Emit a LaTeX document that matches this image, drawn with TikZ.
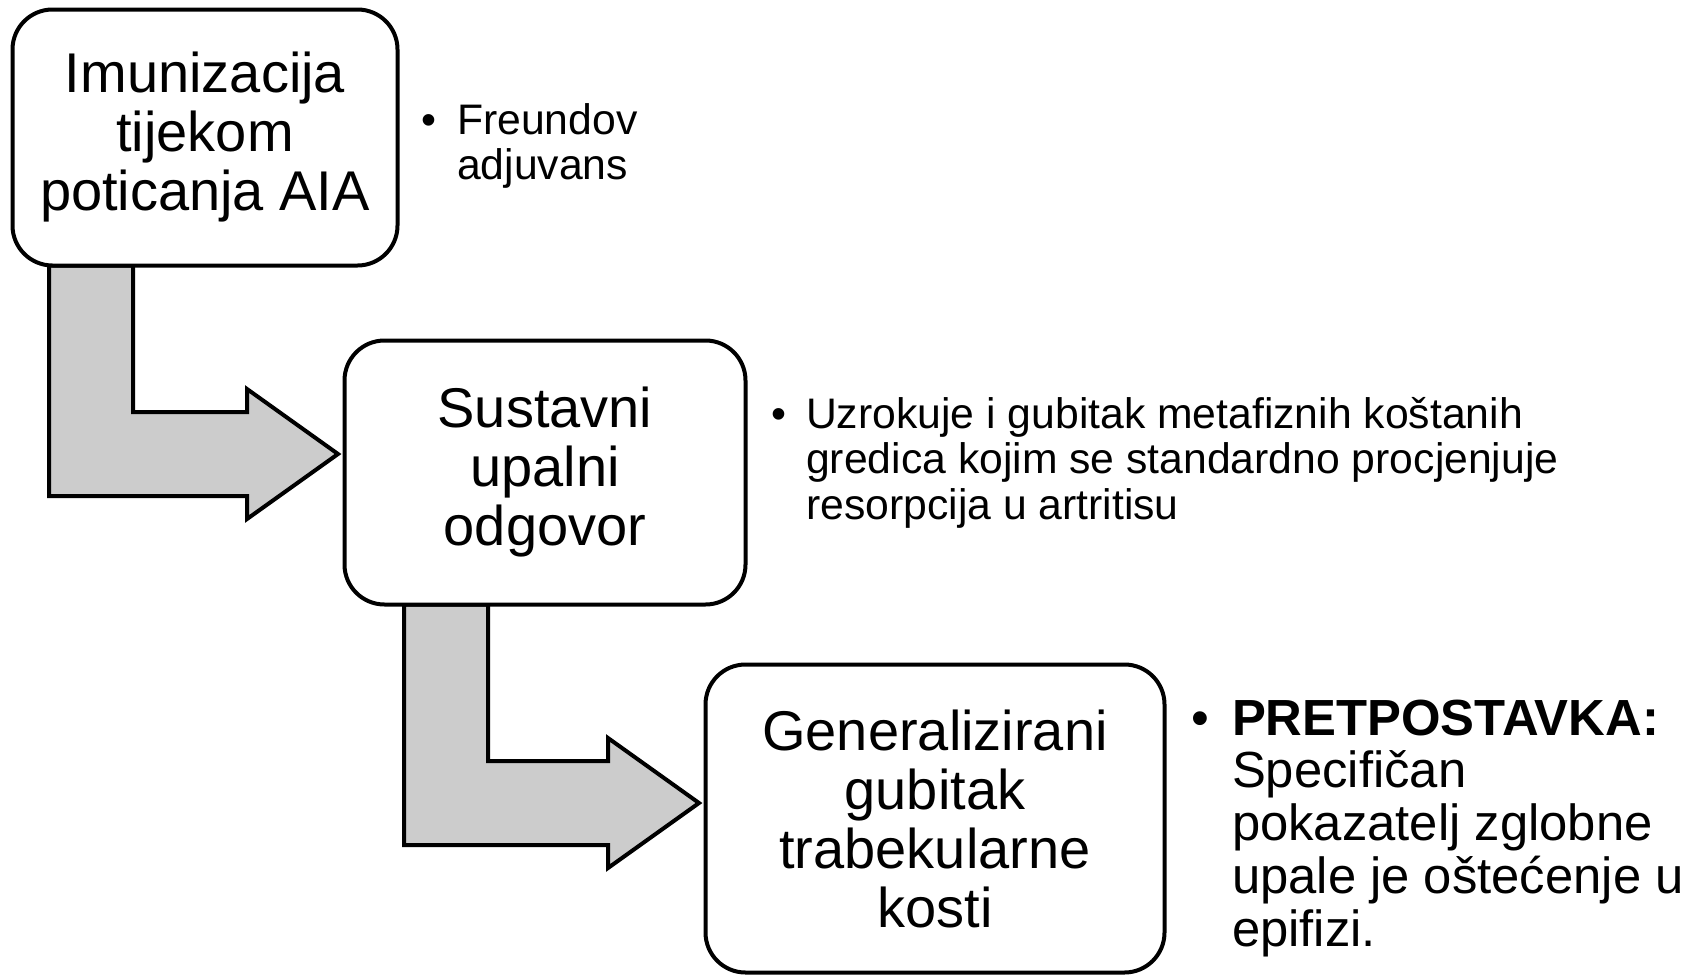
\documentclass[tikz,border=0pt]{standalone}
\usepackage{fontspec}
\setmainfont{Liberation Sans}
\definecolor{arrowgray}{RGB}{204,204,204}
\tikzset{
  box/.style={draw=black, line width=4pt, rounded corners=40pt, fill=white,
    align=center, inner sep=0pt, font=\fontsize{56}{59}\selectfont},
  blockarrow/.style={draw=black, line width=4pt, fill=arrowgray, line join=miter},
  note/.style={anchor=base west, inner sep=0pt, align=left},
  smallfont/.style={font=\fontsize{42.7}{45.5}\selectfont}
}
\begin{document}
\begin{tikzpicture}[x=1pt,y=-1pt]
\useasboundingbox (0,0) rectangle (1694,977);
% block arrows
\draw[blockarrow] (49,265.5) -- (49,496) -- (247,496) -- (247,519) -- (338,454)
  -- (247,389) -- (247,412) -- (133,412) -- (133,265.5) -- cycle;
\draw[blockarrow] (404,604.5) -- (404,845) -- (608,845) -- (608,868) -- (699,803)
  -- (608,738) -- (608,761) -- (488,761) -- (488,604.5) -- cycle;
% boxes
\node[box, minimum width=385pt, minimum height=256pt] (b1) at (205,137.5)
  {Imunizacija\\tijekom\\poticanja AIA};
\node[box, minimum width=401pt, minimum height=264pt] (b2) at (545,472.5)
  {Sustavni\\upalni\\odgovor};
\node[box, minimum width=459pt, minimum height=308pt] (b3) at (935,818.5)
  {Generalizirani\\gubitak\\trabekularne\\kosti};
% notes
\node[note, smallfont] (n1) at (421,134)
  {\begin{tabular}[t]{@{}l@{\hspace{21pt}}l@{}}\textbullet & Freundov\\ & adjuvans\end{tabular}};
\node[note, smallfont] (n2) at (771,428)
  {\begin{tabular}[t]{@{}l@{\hspace{20pt}}l@{}}\textbullet & Uzrokuje i gubitak metafiznih koštanih\\
   & gredica kojim se standardno procjenjuje\\ & resorpcija u artritisu\end{tabular}};
\node[note, font=\fontsize{50.8}{52.5}\selectfont] (n3) at (1191,735)
  {\begin{tabular}[t]{@{}l@{\hspace{23pt}}l@{}}\textbullet & \textbf{PRETPOSTAVKA:}\\
   & Specifičan\\ & pokazatelj zglobne\\ & upale je oštećenje u\\ & epifizi.\end{tabular}};
\end{tikzpicture}
\end{document}
